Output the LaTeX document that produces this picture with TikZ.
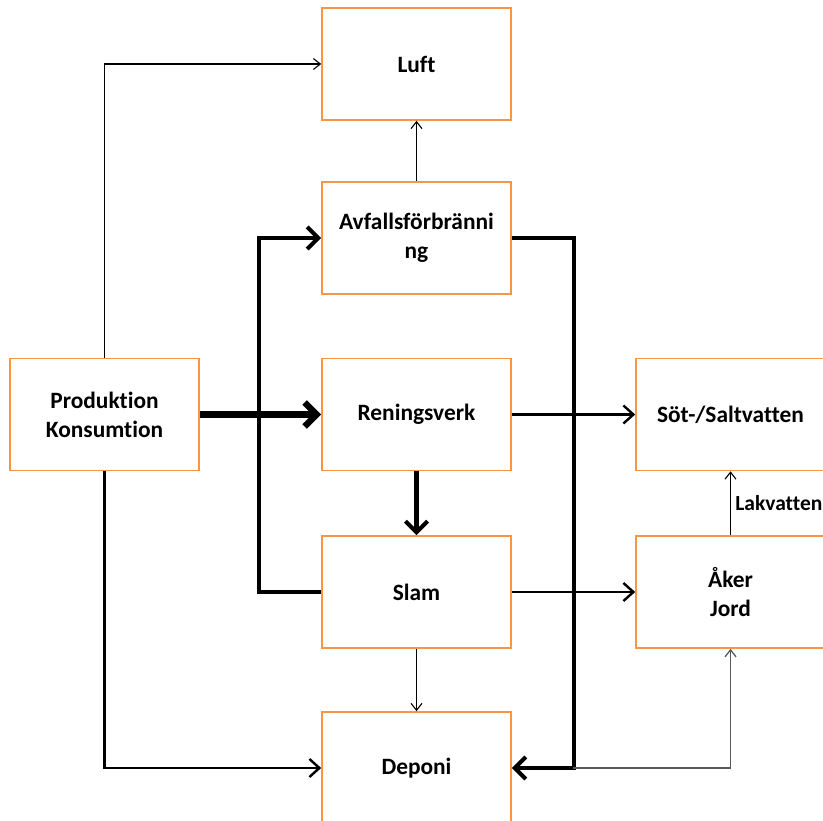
\documentclass[tikz,border=0pt]{standalone}
\usepackage{fontspec}
\setmainfont{Carlito}[Ligatures=NoCommon]
\usetikzlibrary{arrows.meta}
\definecolor{boxorange}{RGB}{247,150,70}
\definecolor{linegray}{RGB}{90,90,90}
\begin{document}
\begin{tikzpicture}[x=1pt,y=-1pt,
  box/.style={draw=boxorange, line width=1.6pt, minimum width=189pt, minimum height=112pt,
    inner sep=0pt, align=center, font=\fontsize{23.4}{29}\selectfont\bfseries},
  thinarr/.style={line width=1.1pt, -{Straight Barb[length=7pt,width=11pt]}},
  grayarr/.style={draw=linegray, line width=1.3pt, -{Straight Barb[length=7pt,width=11pt]}},
  medarr/.style={line width=2.4pt, -{Straight Barb[length=10pt,width=18pt]}},
  thickarr/.style={line width=4.2pt, -{Straight Barb[length=11pt,width=22pt]}},
  hugearr/.style={line width=6.5pt, -{Straight Barb[length=12pt,width=24pt]}},
  lbl/.style={font=\fontsize{21.5}{24}\selectfont\bfseries}
]
\useasboundingbox (0,0) rectangle (823,821);
\node[box] (luft) at (416.5,64) {Luft};
\node[box] (avf) at (416.5,238) {Avfallsförbränni\\ng};
\node[box] (prod) at (104.5,414.5) {Produktion\\Konsumtion};
\node[box] (ren) at (416.5,414.5) {Reningsverk};
\node[box] (sot) at (730.5,414.5) {Söt-/Saltvatten};
\node[box] (slam) at (416.5,592) {Slam};
\node[box] (aker) at (730.5,592) {Åker\\Jord};
\node[box] (dep) at (416.5,768) {Deponi};
\coordinate (jn) at (573,768);

\draw[thinarr] (prod.north) |- (luft.west);
\draw[thinarr] (avf.north) -- (luft.south);
\draw[hugearr] (prod.east) -- (ren.west);
\draw[thickarr] (slam.west) -- ++(-62,0) |- (avf.west);
\draw[thickarr] (avf.east) -- ++(62,0) |- (dep.east);
\draw[medarr] (ren.east) -- (sot.west);
\draw[thickarr] (ren.south) -- (slam.north);
\draw[medarr] (slam.east) -- (aker.west);
\draw[thinarr] (slam.south) -- (dep.north);
\draw[medarr] (prod.south) |- (dep.west);
\draw[thinarr] (aker.north) -- node[lbl, right, xshift=1pt] {Lakvatten} (sot.south);
\draw[grayarr] (jn) -| (aker.south);
\end{tikzpicture}
\end{document}
